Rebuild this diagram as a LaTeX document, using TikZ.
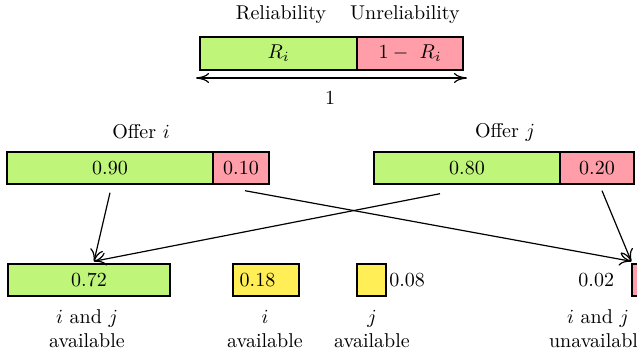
\documentclass[tikz,border=0pt]{standalone}
\usetikzlibrary{positioning,arrows.meta}
\definecolor{relgreen}{RGB}{191,246,122}
\definecolor{unrelpink}{RGB}{255,158,168}
\definecolor{partyellow}{RGB}{255,238,85}
\begin{document}
\begin{tikzpicture}
  [x=0.5pt,y=-0.5pt,semithick,>={To[length=6pt,width=6.5pt]},
   bar/.style={draw,line width=0.7pt,minimum height=16pt},
   good/.style={bar,fill=relgreen},
   bad/.style={bar,fill=unrelpink},
   part/.style={bar,fill=partyellow},
   lbl/.style={align=center}]
  \useasboundingbox (0,0) rectangle (637,359);

  % one offer split into reliability / unreliability
  \node (reltxt) at (281,15) {Reliability};
  \node (unreltxt) at (405,15) {Unreliability};
  \node[good,minimum width=78.5pt,minimum height=16.5pt] (rel) at (278.5,53.5) {$R_i$};
  \node[bad,minimum width=53pt,minimum height=16.5pt] (unrel) at (410,53.5) {$1-\ R_i$};
  \coordinate (oneL) at (196,78);
  \coordinate (oneR) at (467,78);
  \draw[{To[length=6.5pt,width=5pt]}-{To[length=6.5pt,width=5pt]}] (oneL) -- (oneR);
  \node (one) at (330,98) {1};

  % the two offers
  \node (offi) at (141,132) {Offer $i$};
  \node[good,minimum width=103pt] (i1) at (110,168) {0.90};
  \node[bad,minimum width=28pt] (i0) at (241,168) {0.10};
  \node (offj) at (505,132) {Offer $j$};
  \node[good,minimum width=93pt] (j1) at (467,168) {0.80};
  \node[bad,minimum width=37pt] (j0) at (597,168) {0.20};

  % combined outcomes
  \node[good,minimum width=81pt] (both) at (89,280) {0.72};
  \node[part,text width=26.3pt,align=left] (onlyi) at (266,280) {0.18};
  \node[part,minimum width=14.5pt] (onlyj) at (371.5,280) {};
  \node[right=0pt of onlyj,inner sep=1pt] (onlyjv) {0.08};
  \node[bad,minimum width=14.5pt] (none) at (646.5,280) {};
  \node[left=5pt of none] (nonev) {0.02};

  \node[lbl] (lboth) at (87,329) {$i$ and $j$\\available};
  \node[lbl] (lonlyi) at (265,329) {$i$\\available};
  \node[lbl] (lonlyj) at (372,329) {$j$\\available};
  \node[lbl] (lnone) at (598,329) {$i$ and $j$\\unavailable};

  \coordinate (i1out) at ([yshift=-4pt]i1.south);
  \coordinate (j1out) at ([xshift=-13.5pt,yshift=-4.5pt]j1.south);
  \coordinate (i0out) at ([xshift=2pt,yshift=-3pt]i0.south);
  \coordinate (j0out) at ([xshift=2.5pt,yshift=-3pt]j0.south);
  \coordinate (bothin) at ([xshift=2.5pt,yshift=1pt]both.north);
  \coordinate (nonein) at ([yshift=1pt]none.north west);

  \foreach \from/\to in {i1out/bothin,j1out/bothin,i0out/nonein,j0out/nonein}
    \draw[->] (\from) -- (\to);
\end{tikzpicture}
\end{document}
